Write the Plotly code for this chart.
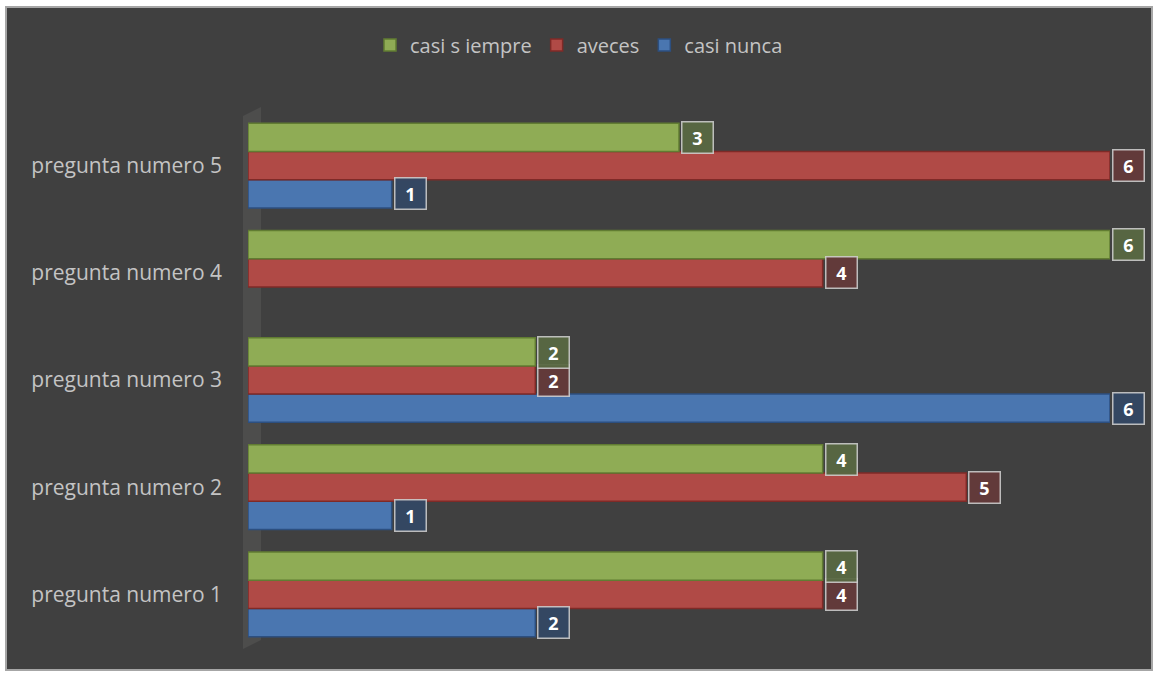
import plotly.graph_objects as go

# Survey answers per question
preguntas = ["pregunta numero 1", "pregunta numero 2", "pregunta numero 3",
             "pregunta numero 4", "pregunta numero 5"]
casi_siempre = [4, 4, 2, 6, 3]
aveces = [4, 5, 2, 4, 6]
casi_nunca = [2, 1, 6, None, 1]

series = [
    # name, values, fill, outline, label box fill, label y shift
    ("casi nunca", casi_nunca, "#4a76b0", "#2c4f80", "rgba(52,72,100,0.95)", -28),
    ("aveces", aveces, "#b04a46", "#7f2a27", "rgba(100,58,58,0.95)", 0),
    ("casi s iempre", casi_siempre, "#8fac55", "#617c32", "rgba(88,104,66,0.95)", 28),
]

BG = "#404040"
TXT = "#c4c4c4"

fig = go.Figure()
for name, vals, fill, line, box, shift in series:
    fig.add_trace(go.Bar(
        y=preguntas, x=vals, name=name, orientation="h",
        marker=dict(color=fill, line=dict(color=line, width=1.5)),
        hoverinfo="x+name",
    ))
    for cat, v in zip(preguntas, vals):
        if v is None:
            continue
        fig.add_annotation(
            x=v, y=cat, xref="x", yref="y", yshift=shift, xshift=2,
            xanchor="left", yanchor="middle", showarrow=False,
            text=f"<b>{v}</b>", width=28, height=28,
            font=dict(family="Open Sans", size=18, color="#ffffff"),
            bgcolor=box, bordercolor="rgba(210,210,210,0.85)", borderwidth=1.5,
        )

# Geometry in pixels for the frame and side wall
W, H = 1158, 677
L, R, T, B = 248, 1110, 112, 648


def px(x):
    return (x - L) / (R - L)


def py(y):
    return (B - y) / (B - T)


shapes = [
    dict(type="rect", xref="paper", yref="paper", layer="below",
         x0=px(6), x1=px(1152), y0=py(670), y1=py(7),
         fillcolor=BG, line=dict(color="#a6a6a6", width=2)),
    dict(type="path", xref="paper", yref="paper", layer="below",
         path=(f"M {px(243)},{py(116)} L {px(261)},{py(107)} "
               f"L {px(261)},{py(640)} L {px(243)},{py(649)} Z"),
         fillcolor="rgba(255,255,240,0.07)", line=dict(width=0)),
]

fig.update_layout(
    width=W, height=H,
    margin=dict(l=L, r=W - R, t=T, b=H - B, pad=0),
    paper_bgcolor="#ffffff",
    plot_bgcolor="rgba(0,0,0,0)",
    barmode="group", bargap=0.21, bargroupgap=0,
    shapes=shapes,
    showlegend=True,
    legend=dict(
        orientation="h", traceorder="reversed",
        xref="container", yref="container",
        x=0.5, xanchor="center", y=1 - 45 / H, yanchor="middle",
        font=dict(family="Open Sans", size=20, color=TXT),
        bgcolor="rgba(0,0,0,0)", itemwidth=30,
    ),
    xaxis=dict(range=[0, 6], visible=False, fixedrange=True),
    yaxis=dict(
        type="category", categoryorder="array", categoryarray=preguntas,
        showgrid=False, zeroline=False, showline=False, ticks="",
        ticklabelstandoff=25,
        tickfont=dict(family="Open Sans", size=21, color=TXT),
    ),
)

fig.write_html("out.html")
